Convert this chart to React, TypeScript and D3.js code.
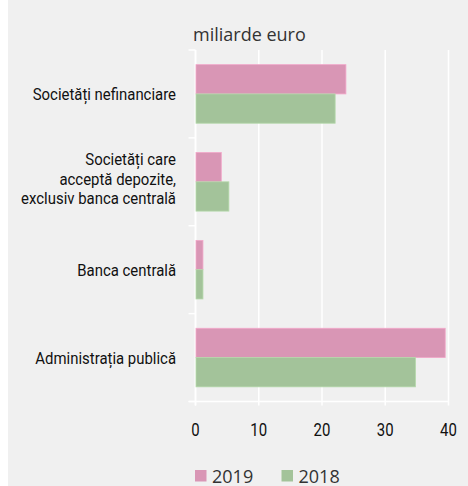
import React from "react";
import * as d3 from "d3";

const categories: string[][] = [
  ["Societăți nefinanciare"],
  ["Societăți care", "acceptă depozite,", "exclusiv banca centrală"],
  ["Banca centrală"],
  ["Administrația publică"],
];
const series2019: number[] = [23.7, 4.0, 1.1, 39.4];
const series2018: number[] = [22.0, 5.2, 1.1, 34.7];
const seriesNames: string[] = ["2019", "2018"];
const xTicks: number[] = [0, 10, 20, 30, 40];
const unitLabel = "miliarde euro";

const W = 468;
const H = 486;
const PINK = "#d996b5";
const GREEN = "#a3c39a";
const BG = "#f0f0f0";
const FONT = "Roboto, 'Liberation Sans', sans-serif";
const FONT2 = "'Open Sans', 'Noto Sans', sans-serif";
const SQX = 0.905;
const LFS = 16.5;

export default function App() {
  const left = 195.5;
  const right = 448.5;
  const top = 50;
  const bottom = 401.5;
  const x = d3.scaleLinear().domain([0, 40]).range([left, right]);
  const idx = categories.map((_, i) => String(i));
  const y = d3.scaleBand().domain(idx).range([top, bottom]).paddingInner(0).paddingOuter(0);
  const inner = d3
    .scaleBand()
    .domain(seriesNames)
    .range([0, y.bandwidth()])
    .paddingOuter(0.5)
    .paddingInner(0);
  const colors = [PINK, GREEN];
  const values = [series2019, series2018];
  const boundaries = [top, ...idx.map((d) => (y(d) as number) + y.bandwidth())];

  return (
    <svg
      width={W}
      height={H}
      style={{ position: "fixed", left: 0, top: 0, display: "block" }}
    >
      <rect x={0} y={0} width={W} height={H} fill="#ffffff" />
      <rect x={8} y={0} width={W - 8} height={H} fill={BG} />
      <text x={193} y={41} fontFamily={FONT2} fontSize={18} fill="#333">
        {unitLabel}
      </text>
      {/* gridlines */}
      {xTicks.map((t) => (
        <line
          key={"g" + t}
          x1={x(t)}
          x2={x(t)}
          y1={top}
          y2={bottom + 4}
          stroke="#ffffff"
          strokeWidth={1.5}
        />
      ))}
      {/* y axis */}
      <line x1={left} x2={left} y1={top} y2={bottom + 4} stroke="#fff" strokeWidth={1.5} />
      {boundaries.map((b, i) => (
        <line key={"yt" + i} x1={left - 7} x2={left} y1={b} y2={b} stroke="#fff" strokeWidth={1.5} />
      ))}
      <line x1={left - 7} x2={right} y1={bottom} y2={bottom} stroke="#fff" strokeWidth={1.5} />
      {/* bars */}
      {values.map((vals, si) =>
        vals.map((v, i) => (
          <rect
            key={si + "-" + i}
            x={x(0) + 0.5}
            y={(y(String(i)) as number) + (inner(seriesNames[si]) as number)}
            width={x(v) - x(0)}
            height={inner.bandwidth()}
            fill={colors[si]}
            stroke={d3.color(colors[si])!.brighter(0.3).formatHex()}
            strokeWidth={0.8}
          />
        ))
      )}
      {/* category labels */}
      {categories.map((lines, i) => {
        const cy = (y(String(i)) as number) + y.bandwidth() / 2;
        const lh = 19.5;
        const single = lines.length === 1;
        const start = single ? cy + 6 : cy + 3 - ((lines.length - 1) * lh) / 2;
        return (
          <g key={"c" + i}>
            {lines.map((l, j) => (
              <text
                key={j}
                transform={`translate(176,${start + j * lh}) scale(${SQX},1)`}
                textAnchor="end"
                fontFamily={FONT}
                fontSize={LFS}
                fill="#111"
              >
                {l}
              </text>
            ))}
          </g>
        );
      })}
      {/* x tick labels */}
      {xTicks.map((t) => (
        <text
          key={"xt" + t}
          transform={`translate(${x(t)},436) scale(0.83,1)`}
          textAnchor="middle"
          fontFamily={FONT}
          fontSize={18}
          fill="#111"
        >
          {t}
        </text>
      ))}
      {/* legend */}
      {seriesNames.map((s, i) => {
        const lx = 195 + i * 86.5;
        return (
          <g key={"l" + s}>
            <rect x={lx} y={470} width={11.5} height={11.5} fill={colors[i]} />
            <text x={lx + 17} y={482.5} fontFamily={FONT2} fontSize={18} fill="#333">
              {s}
            </text>
          </g>
        );
      })}
    </svg>
  );
}
